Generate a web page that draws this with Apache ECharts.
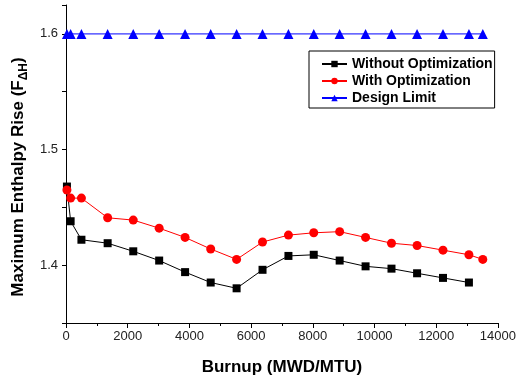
<!DOCTYPE html>
<html>
<head>
<meta charset="utf-8">
<script src="https://cdn.jsdelivr.net/npm/echarts@6/dist/echarts.min.js"></script>
<style>
  html, body { margin: 0; padding: 0; background: #fff; }
  #chart { width: 519px; height: 381px; }
</style>
</head>
<body>
<div id="chart"></div>
<script>
// burnup points (MWD/MTU)
const burnup = [30, 150, 500, 1350, 2180, 3020, 3860, 4690, 5530, 6370, 7210, 8030, 8870, 9710, 10550, 11380, 12220, 13060, 13510];
// F_dH values
const withoutOpt = [1.468, 1.438, 1.422, 1.419, 1.412, 1.404, 1.394, 1.385, 1.380, 1.396, 1.408, 1.409, 1.404, 1.399, 1.397, 1.393, 1.389, 1.385];
const withOpt = [1.465, 1.458, 1.458, 1.441, 1.439, 1.432, 1.424, 1.414, 1.405, 1.420, 1.426, 1.428, 1.429, 1.424, 1.419, 1.417, 1.413, 1.409, 1.405];
const designLimit = [1.6, 1.6, 1.6, 1.6, 1.6, 1.6, 1.6, 1.6, 1.6, 1.6, 1.6, 1.6, 1.6, 1.6, 1.6, 1.6, 1.6, 1.6, 1.6];
const seriesNames = ['Without Optimization', 'With Optimization', 'Design Limit'];

const pairs = (vals) => vals.map((v, i) => [burnup[i], v]);

const chart = echarts.init(document.getElementById('chart'));
const font = 'Liberation Sans, Arial, sans-serif';

chart.setOption({
  animation: false,
  textStyle: { fontFamily: font },
  grid: { left: 66, right: 20, top: 5, bottom: 57 },
  legend: {
    orient: 'vertical',
    left: 309,
    top: 51,
    data: seriesNames,
    itemWidth: 25,
    itemHeight: 8,
    itemGap: 3,
    padding: [6, 2, 3, 12],
    borderColor: '#000',
    borderWidth: 1,
    backgroundColor: '#fff',
    textStyle: { fontSize: 14, fontWeight: 'bold', color: '#000', fontFamily: font }
  },
  xAxis: {
    type: 'value',
    min: 0,
    max: 14000,
    interval: 2000,
    name: 'Burnup (MWD/MTU)',
    nameLocation: 'middle',
    nameGap: 36,
    nameTextStyle: { fontSize: 17, fontWeight: 'bold', color: '#000' },
    axisLine: { lineStyle: { color: '#000', width: 1 } },
    axisTick: { show: true, length: 5, lineStyle: { color: '#000' } },
    minorTick: { show: true, splitNumber: 2, length: 3, lineStyle: { color: '#000' } },
    axisLabel: { fontSize: 13, color: '#222', margin: 7, formatter: (v) => String(v) },
    splitLine: { show: false }
  },
  yAxis: {
    type: 'value',
    min: 1.35,
    max: 1.625,
    interval: 0.05,
    axisLine: { show: true, lineStyle: { color: '#000', width: 1 } },
    axisTick: { show: true, length: 4, lineStyle: { color: '#000' } },
    axisLabel: {
      fontSize: 13,
      color: '#222',
      margin: 8,
      formatter: (v) => Math.abs(v * 10 - Math.round(v * 10)) < 1e-6 ? v.toFixed(1) : ''
    },
    splitLine: { show: false }
  },
  graphic: [{
    type: 'text',
    x: 18,
    y: 177,
    rotation: Math.PI / 2,
    style: {
      text: '{b|Maximum Enthalpy Rise (F}{s|ΔH}{b|)}',
      align: 'center',
      verticalAlign: 'middle',
      fill: '#000',
      rich: {
        b: { fontSize: 17, fontWeight: 'bold', fontFamily: font, lineHeight: 24, verticalAlign: 'middle' },
        s: { fontSize: 12, fontWeight: 'bold', fontFamily: font, lineHeight: 24, verticalAlign: 'bottom', padding: [6, 0, 0, 0] }
      }
    }
  }],
  series: [
    {
      name: seriesNames[0],
      type: 'line',
      data: pairs(withoutOpt),
      symbol: 'rect',
      symbolSize: 8,
      itemStyle: { color: '#000' },
      lineStyle: { color: '#000', width: 1 }
    },
    {
      name: seriesNames[1],
      type: 'line',
      data: pairs(withOpt),
      symbol: 'circle',
      symbolSize: 9,
      itemStyle: { color: '#ff0000' },
      lineStyle: { color: '#ff0000', width: 1 }
    },
    {
      name: seriesNames[2],
      type: 'line',
      data: pairs(designLimit),
      symbol: 'triangle',
      symbolSize: 10,
      itemStyle: { color: '#0000ff' },
      lineStyle: { color: '#0000ff', width: 1 }
    }
  ]
});
</script>
</body>
</html>
